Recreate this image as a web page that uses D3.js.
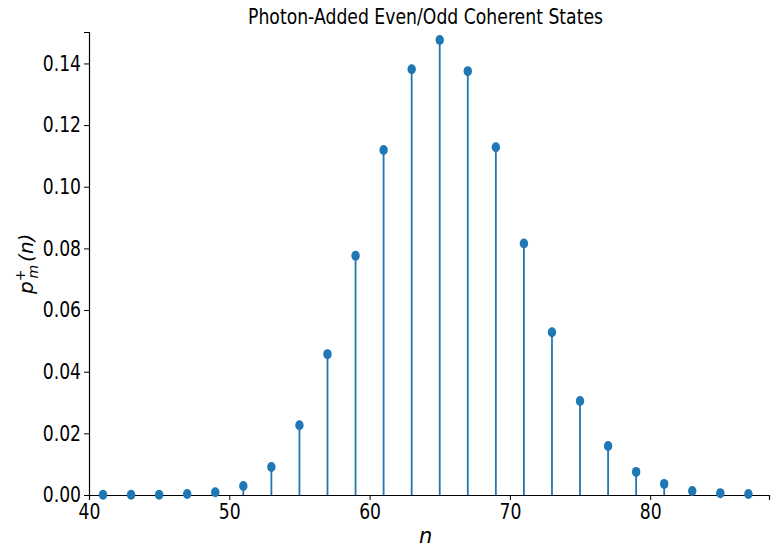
<!DOCTYPE html>
<html>
<head>
<meta charset="utf-8">
<script src="https://cdn.jsdelivr.net/npm/d3@7"></script>
<style>
  body { margin: 0; background: #fff; }
  svg text { font-family: "DejaVu Sans", sans-serif; }
</style>
</head>
<body>
<div id="chart"></div>
<script>
// photon number n and probability values
var nValues = [41, 43, 45, 47, 49, 51, 53, 55, 57, 59, 61, 63, 65, 67, 69, 71, 73, 75, 77, 79, 81, 83, 85, 87]
var pValues = [0.0001, 0.0001, 0.0001, 0.0003, 0.0009, 0.0029, 0.0091, 0.0226, 0.0457, 0.0776, 0.1119, 0.1381, 0.1476,
               0.1375, 0.1128, 0.0816, 0.0528, 0.0305, 0.0159, 0.0075, 0.0036, 0.0013, 0.0006, 0.0003]
var xTicks = [40, 50, 60, 70, 80]
var yTicks = [0, 0.02, 0.04, 0.06, 0.08, 0.10, 0.12, 0.14]

var width = 781, height = 556
var margin = {left: 89, right: 12, top: 32, bottom: 61}
var blue = '#1f77b4'
var squeeze = 0.8   // the text in the picture is narrow and tall

var svg = d3.select('#chart').append('svg')
    .attr('width', width)
    .attr('height', height)

var x = d3.scaleLinear()
    .domain([40, 88.47])
    .range([margin.left, width - margin.right])

var y = d3.scaleLinear()
    .domain([0, 0.1502])
    .range([height - margin.bottom, margin.top])

// axes
svg.append('g')
    .attr('class', 'xaxis')
    .attr('transform', 'translate(0,' + y(0) + ')')
    .call(d3.axisBottom(x).tickValues(xTicks).tickFormat(d3.format('d')).tickSize(5).tickPadding(4))

svg.append('g')
    .attr('class', 'yaxis')
    .attr('transform', 'translate(' + x(40) + ',0)')
    .call(d3.axisLeft(y).tickValues(yTicks).tickFormat(d3.format('.2f')).tickSize(5).tickPadding(4))

svg.selectAll('.domain').attr('stroke', '#000').attr('stroke-width', 1.2)
svg.selectAll('.tick line').attr('stroke', '#000').attr('stroke-width', 1)
svg.selectAll('.tick text')
    .attr('font-size', 21.5)
    .attr('fill', '#000')
    .attr('transform', 'scale(' + squeeze + ',1)')
svg.select('.yaxis').selectAll('.tick text')
    .attr('x', -8 / squeeze)

// stems
svg.append('g').selectAll('line')
    .data(nValues)
    .enter().append('line')
      .attr('x1', function(d) { return x(d); })
      .attr('x2', function(d) { return x(d); })
      .attr('y1', y(0))
      .attr('y2', function(d, i) { return y(pValues[i]); })
      .attr('stroke', blue)
      .attr('stroke-width', 1.8)

// markers (slightly tall, like the picture)
svg.append('g').selectAll('ellipse')
    .data(nValues)
    .enter().append('ellipse')
      .attr('cx', function(d) { return x(d); })
      .attr('cy', function(d, i) { return y(pValues[i]); })
      .attr('rx', 4.2)
      .attr('ry', 5)
      .attr('fill', blue)

// title and axis labels
svg.append('text')
    .attr('x', 425.5)
    .attr('y', 24)
    .attr('text-anchor', 'middle')
    .attr('font-size', 20.5)
    .attr('textLength', 355)
    .attr('lengthAdjust', 'spacingAndGlyphs')
    .text('Photon-Added Even/Odd Coherent States')

svg.append('text')
    .attr('x', x(64))
    .attr('y', 543)
    .attr('text-anchor', 'middle')
    .attr('font-size', 21)
    .attr('font-style', 'italic')
    .text('n')

var ylab = svg.append('text')
    .attr('transform', 'translate(33,' + y(0.075) + ') rotate(-90)')
    .attr('text-anchor', 'middle')
    .attr('font-size', 20)
    .attr('font-style', 'italic')

ylab.append('tspan').text('p')
ylab.append('tspan').attr('font-size', 14).attr('dy', -8).text('+')
ylab.append('tspan').attr('font-size', 14).attr('dx', -9).attr('dy', 13).text('m')
ylab.append('tspan').attr('dy', -5).attr('dx', 3).text('(n)')
</script>
</body>
</html>
